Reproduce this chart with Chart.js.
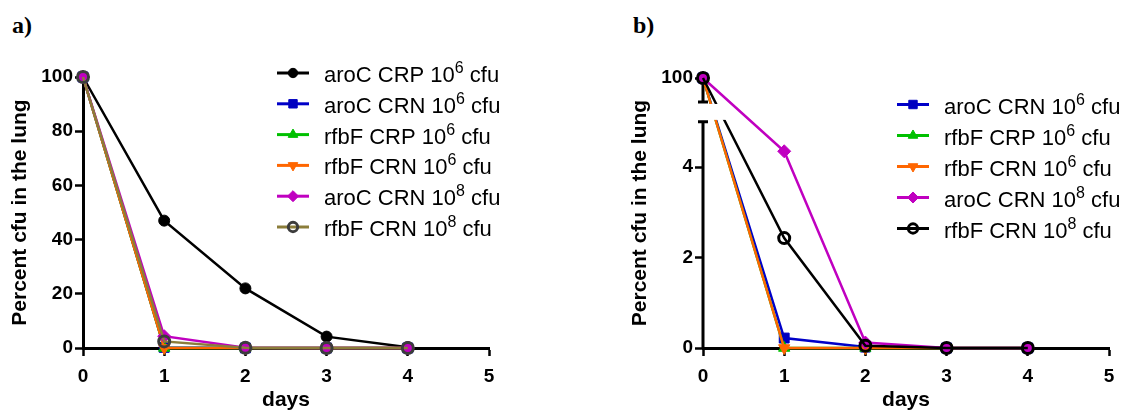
<!DOCTYPE html>
<html>
<head>
<meta charset="utf-8">
<script src="https://cdn.jsdelivr.net/npm/chart.js@4.4.1/dist/chart.umd.min.js"></script>
<style>
  body { margin: 0; background: #fff; width: 1128px; height: 411px; overflow: hidden; position: relative; }
  .panel { position: absolute; top: 0; }
  .tag { position: absolute; top: 13px; font: bold 24px "Liberation Serif", "Times New Roman", serif; line-height: 24px; }
</style>
</head>
<body>
<div class="tag" style="left:12px">a)</div>
<div class="tag" style="left:633px">b)</div>
<div class="panel" style="left:0"><canvas id="chartA" width="620" height="411"></canvas></div>
<div class="panel" style="left:620px"><canvas id="chartB" width="508" height="411"></canvas></div>
<script>
// data
const days = [0, 1, 2, 3, 4];
const xTicks = [0, 1, 2, 3, 4, 5];
const yTicksA = [0, 20, 40, 60, 80, 100];
const yTicksB = [0, 2, 4, 100];

const aroC_CRP_6 = [100, 47, 22, 4.2, 0.3];
const aroC_CRN_6 = [100, 0.22, 0.02, 0, 0];
const rfbF_CRP_6 = [100, 0, 0, 0, 0];
const rfbF_CRN_6 = [100, 0, 0, 0, 0];
const aroC_CRN_8 = [100, 4.35, 0.12, 0, 0];
const rfbF_CRN_8 = [100, 2.43, 0.05, 0, 0];

const FONT = '"Liberation Sans", Arial, Helvetica, sans-serif';
Chart.defaults.font.family = FONT;
Chart.defaults.color = '#000';

// broken axis for panel b: 0..5 linear, then a gap, then 95..100 squeezed
const LOW_MAX = 5, GAP = 0.44, HIGH_MIN = 95, HIGH_MAX = 100, HIGH_SPAN = 0.53;
function brk(v) {
    if (v <= LOW_MAX) return v;
    return LOW_MAX + GAP + (v - HIGH_MIN) / (HIGH_MAX - HIGH_MIN) * HIGH_SPAN;
}

const seriesA = [
    { label: 'aroC CRP 10^6 cfu', data: aroC_CRP_6, line: '#000000', fill: '#000000', edge: '#000000', edgeW: 1, shape: 'circle', r: 5.5 },
    { label: 'aroC CRN 10^6 cfu', data: aroC_CRN_6, line: '#0000c8', fill: '#0000c0', edge: '#0000c0', edgeW: 1, shape: 'rect', r: 7 },
    { label: 'rfbF CRP 10^6 cfu', data: rfbF_CRP_6, line: '#00c000', fill: '#00c000', edge: '#00c000', edgeW: 1, shape: 'triangle', r: 6.5 },
    { label: 'rfbF CRN 10^6 cfu', data: rfbF_CRN_6, line: '#ff6600', fill: '#ff6600', edge: '#ff6600', edgeW: 1, shape: 'triangle', rot: 180, r: 6.5 },
    { label: 'aroC CRN 10^8 cfu', data: aroC_CRN_8, line: '#c000c0', fill: '#c000c0', edge: '#c000c0', edgeW: 1, shape: 'rectRot', r: 6.5 },
    { label: 'rfbF CRN 10^8 cfu', data: rfbF_CRN_8, line: '#8b7d3a', fill: 'rgba(0,0,0,0)', edge: '#3c3c3c', edgeW: 3, shape: 'circle', r: 5.5 }
];
const seriesB = seriesA.slice(1).map(s => s.data === rfbF_CRN_8 ? Object.assign({}, s, { line: '#000000', edge: '#000000' }) : s);

function makeDatasets(list, tf) {
    return list.map((s, i) => ({
        label: s.label,
        data: s.data.map((v, j) => ({ x: days[j], y: tf(v) })),
        borderColor: s.line,
        backgroundColor: s.fill,
        pointBackgroundColor: s.fill,
        pointBorderColor: s.edge,
        pointBorderWidth: s.edgeW,
        pointStyle: s.shape,
        pointRotation: s.rot || 0,
        pointRadius: s.r,
        pointHoverRadius: s.r,
        borderWidth: 2.5,
        tension: 0,
        clip: false,
        order: -i
    }));
}

function legendPlugin(top, step) {
    return {
        id: 'sideLegend',
        afterDraw(chart) {
            const ctx = chart.ctx;
            chart.data.datasets.forEach((ds, i) => {
                const y = top + i * step;
                ctx.save();
                ctx.strokeStyle = ds.borderColor;
                ctx.lineWidth = 3;
                ctx.beginPath();
                ctx.moveTo(277, y);
                ctx.lineTo(309, y);
                ctx.stroke();
                ctx.fillStyle = ds.pointBackgroundColor;
                ctx.strokeStyle = ds.pointBorderColor;
                ctx.lineWidth = ds.pointBorderWidth;
                Chart.helpers.drawPoint(ctx, {
                    pointStyle: ds.pointStyle, rotation: ds.pointRotation,
                    radius: ds.pointRadius * 0.85, borderWidth: ds.pointBorderWidth
                }, 293, y);
                const parts = ds.label.split('^');
                const pre = parts[0], sup = parts[1].charAt(0), post = parts[1].slice(1);
                ctx.fillStyle = '#000';
                ctx.textBaseline = 'alphabetic';
                ctx.textAlign = 'left';
                let x = 324;
                ctx.font = '22px ' + FONT;
                ctx.fillText(pre, x, y + 9);
                x += ctx.measureText(pre).width;
                ctx.font = '16px ' + FONT;
                ctx.fillText(sup, x, y);
                x += ctx.measureText(sup).width;
                ctx.font = '22px ' + FONT;
                ctx.fillText(post, x, y + 9);
                ctx.restore();
            });
        }
    };
}

const breakPlugin = {
    id: 'axisBreak',
    beforeDatasetsDraw(chart) {
        const ctx = chart.ctx, ys = chart.scales.y, x0 = chart.chartArea.left;
        const yZero = ys.getPixelForValue(0), yLowTop = ys.getPixelForValue(LOW_MAX);
        const yHighBot = ys.getPixelForValue(brk(HIGH_MIN)), yHighTop = ys.getPixelForValue(brk(HIGH_MAX));
        ctx.save();
        ctx.strokeStyle = '#000';
        ctx.lineWidth = 3;
        ctx.beginPath();
        ctx.moveTo(x0, yZero); ctx.lineTo(x0, yLowTop);
        ctx.moveTo(x0 - 5, yLowTop); ctx.lineTo(x0 + 5, yLowTop);
        ctx.moveTo(x0, yHighTop); ctx.lineTo(x0, yHighBot);
        ctx.moveTo(x0 - 5, yHighBot); ctx.lineTo(x0 + 5, yHighBot);
        ctx.stroke();
        ctx.restore();
    },
    afterDatasetsDraw(chart) {
        const ctx = chart.ctx, ys = chart.scales.y, x0 = chart.chartArea.left;
        const yLowTop = ys.getPixelForValue(LOW_MAX), yHighBot = ys.getPixelForValue(brk(HIGH_MIN));
        ctx.save();
        ctx.fillStyle = '#fff';
        ctx.fillRect(x0 - 3, yHighBot + 2, 28, yLowTop - yHighBot - 4);
        ctx.restore();
    }
};

function xScale() {
    return {
        type: 'linear', min: 0, max: 5,
        afterFit(s) { s.height = 63; },
        afterBuildTicks(s) { s.ticks = xTicks.map(v => ({ value: v })); },
        border: { display: true, color: '#000', width: 3 },
        grid: { drawOnChartArea: false, drawTicks: true, tickLength: 8, tickWidth: 2.5, tickColor: '#000' },
        ticks: { padding: 9, font: { size: 19, weight: 'bold' }, color: '#000', maxRotation: 0 },
        title: { display: true, text: 'days', font: { size: 21, weight: 'bold', lineHeight: 1 }, padding: { top: 0, bottom: 0 }, color: '#000' }
    };
}

function yTitle() {
    return { display: true, text: 'Percent cfu in the lung', font: { size: 21, weight: 'bold', lineHeight: 1 }, padding: { top: 9.5, bottom: 0 }, color: '#000' };
}

new Chart(document.getElementById('chartA'), {
    type: 'line',
    data: { datasets: makeDatasets(seriesA, v => v) },
    options: {
        responsive: false,
        animation: false,
        layout: { padding: { left: 0, top: 77, right: 131, bottom: 0 } },
        plugins: { legend: { display: false }, tooltip: { enabled: false } },
        scales: {
            x: xScale(),
            y: {
                type: 'linear', min: 0, max: 100,
                afterFit(s) { s.width = 83; },
                afterBuildTicks(s) { s.ticks = yTicksA.map(v => ({ value: v })); },
                border: { display: true, color: '#000', width: 3 },
                grid: { drawOnChartArea: false, drawTicks: true, tickLength: 8, tickWidth: 2.5, tickColor: '#000' },
                ticks: { padding: 2, font: { size: 19, weight: 'bold' }, color: '#000' },
                title: yTitle()
            }
        }
    },
    plugins: [legendPlugin(73, 30.8)]
});

new Chart(document.getElementById('chartB'), {
    type: 'line',
    data: { datasets: makeDatasets(seriesB, brk) },
    options: {
        responsive: false,
        animation: false,
        layout: { padding: { left: 0, top: 78, right: 19, bottom: 0 } },
        plugins: { legend: { display: false }, tooltip: { enabled: false } },
        scales: {
            x: xScale(),
            y: {
                type: 'linear', min: 0, max: brk(HIGH_MAX),
                afterFit(s) { s.width = 83; },
                afterBuildTicks(s) { s.ticks = yTicksB.map(v => ({ value: brk(v) })); },
                border: { display: false },
                grid: { drawOnChartArea: false, drawTicks: true, tickLength: 8, tickWidth: 2.5, tickColor: '#000' },
                ticks: {
                    padding: 2, font: { size: 19, weight: 'bold' }, color: '#000',
                    callback: val => {
                        const t = yTicksB.find(v => Math.abs(brk(v) - val) < 1e-6);
                        return t === undefined ? '' : String(t);
                    }
                },
                title: yTitle()
            }
        }
    },
    plugins: [legendPlugin(104.5, 31), breakPlugin]
});
</script>
</body>
</html>
